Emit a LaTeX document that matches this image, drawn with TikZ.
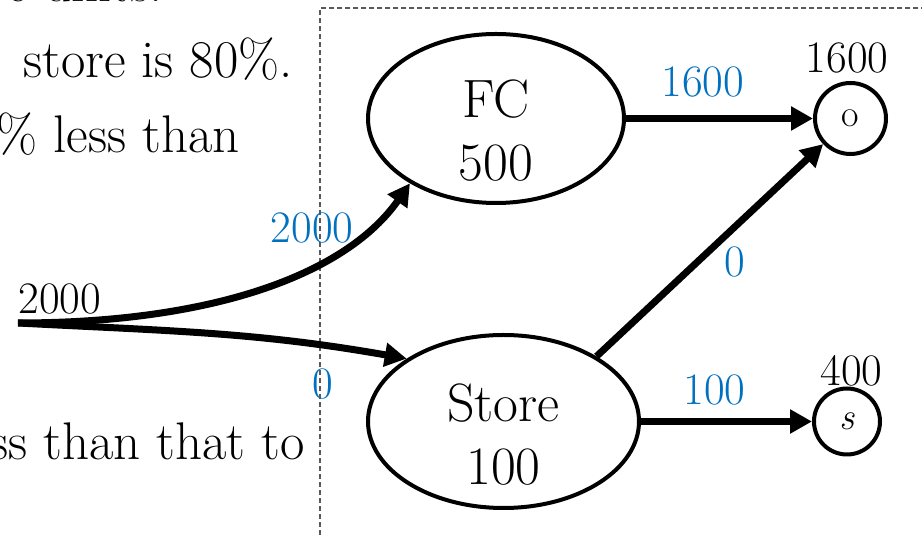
\documentclass[tikz,border=0pt]{standalone}
\usepackage{fontspec}
\usetikzlibrary{shapes.geometric,arrows.meta}
\definecolor{flowblue}{RGB}{0,112,192}
\begin{document}
\begin{tikzpicture}[x=1pt,y=1pt,
  site/.style={ellipse,draw,line width=4pt,inner sep=0pt},
  sitetext/.style={align=center,inner sep=0pt,font=\fontsize{54}{63}\selectfont},
  sink/.style={circle,draw,line width=4pt,inner sep=0pt,font=\fontsize{38}{44}\selectfont},
  flow/.style={line width=7pt,-{Triangle[length=22pt,width=23pt]}},
  amt/.style={text=flowblue,inner sep=2pt,font=\fontsize{45}{50}\selectfont},
  qty/.style={inner sep=2pt,font=\fontsize{45}{50}\selectfont},
  prose/.style={anchor=base east,inner sep=0pt,font=\fontsize{53}{60}\selectfont},
  frame/.style={draw=black!65,line width=1.5pt,dash pattern=on 5pt off 3pt}]
\useasboundingbox (0,0) rectangle (922,535);
\clip (0,0) rectangle (922,535);
% slide text left of the box
\node[prose] (line0) at (163,533.5) {e units.};
\node[prose] (line1) at (293,457) {store is 80\%.};
\node[prose] (line2) at (240,382) {\% less than};
\node[prose] (line3) at (305,75) {ss than that to};
\draw[frame] (320,0) |- (922,527);

% network
\node[site,minimum width=256pt,minimum height=169pt] (fc) at (496,416.5) {};
\node[sitetext] (fclbl) at (496,404) {FC\\500};
\node[site,minimum width=271pt,minimum height=173pt] (store) at (503.5,113.5) {};
\node[sitetext] (storelbl) at (503.5,100) {Store\\100};
\node[sink,minimum size=71pt] (o) at (850.5,416.5) {o};
\node[sink,minimum size=66pt] (s) at (847,113.5) {\textit{s}};
\node[qty] (otot) at (847,477.5) {1600};
\node[qty] (stot) at (851.5,164) {400};
\coordinate (src) at (18,212);
\node[qty] (srctot) at (60,236) {2000};

\path[flow]
(src)      edge[out=0,in=235,out looseness=1.23,in looseness=0.67]
             node[amt,pos=0.78,anchor=south east,yshift=-12pt] (fcin) {2000} (fc.217)
(src)      edge[out=-3,in=170]
             node[amt,pos=0.8,below=18pt] (storein) {0} (store.147)
(fc)       edge node[amt,pos=0.41,above=16pt] (fcout) {1600} (o)
(store.35) edge node[amt,auto,swap,pos=0.54] (cross) {0} (o)
(store)    edge node[amt,pos=0.43,above=11pt] (storeout) {100} (s);
\end{tikzpicture}
\end{document}
